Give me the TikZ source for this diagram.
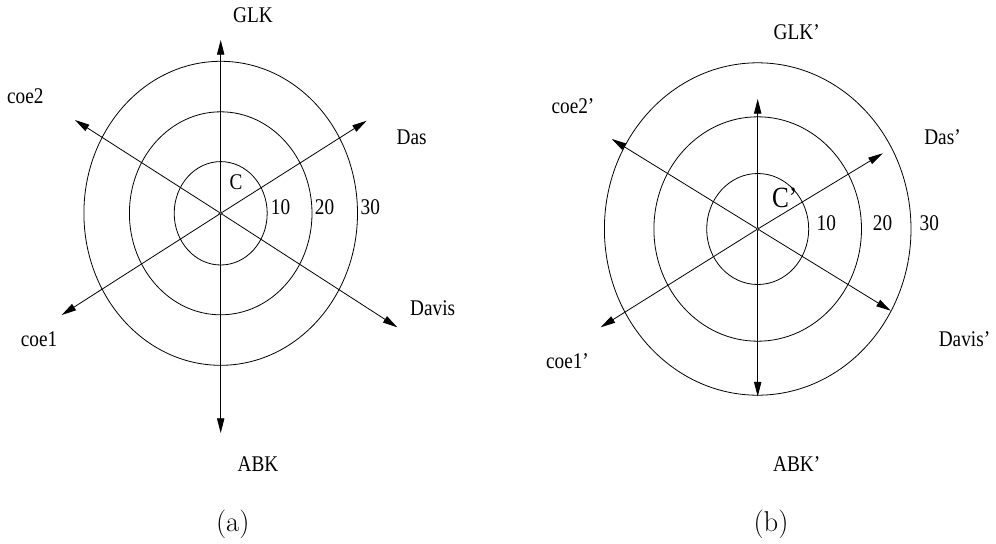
\documentclass[tikz,border=0pt]{standalone}
\usepackage{fontspec}
\newfontfamily\tfont{Liberation Serif}
\usetikzlibrary{arrows.meta}
\newcommand\sqz[1]{\scalebox{0.86}[1]{#1}}
\tikzset{
  lab/.style={font=\tfont\fontsize{16.8}{18}\selectfont, inner sep=0pt},
  biglab/.style={font=\tfont\fontsize{22}{24}\selectfont, inner sep=0pt},
  subcap/.style={font=\fontsize{21.5}{24}\selectfont, inner sep=0pt},
  ax/.style={line width=0.6pt, -{Triangle[length=11pt,width=5.5pt]}},
  ring/.style={line width=0.6pt},
  ctr/.style={circle, draw, line width=0.5pt, fill=gray, inner sep=0pt, minimum size=2.6pt}
}
\begin{document}
\begin{tikzpicture}[x=0.75pt, y=-0.75pt]
\useasboundingbox (0,0) rectangle (996,543);

% ---------- (a) ----------
\coordinate (ca0) at (220.7,213.3);
\draw[ring] (ca0) ellipse [x radius=46.5, y radius=51.7];
\draw[ring] (ca0) ellipse [x radius=91.3, y radius=101.5];
\draw[ring] (ca0) ellipse [x radius=136.8, y radius=152];
\node[ctr] (ca) at (ca0) {};
\coordinate (aN)  at (220.7,40);
\coordinate (aS)  at (220.7,433);
\coordinate (aNE) at (366.7,120.7);
\coordinate (aSW) at (61.7,315);
\coordinate (aNW) at (75,120);
\coordinate (aSE) at (397.3,327.3);
\foreach \t in {aN,aS,aNE,aSW,aNW,aSE} \draw[ax] (ca) -- (\t);

\node[lab] (glk) at (253,15) {\sqz{GLK}};
\node[lab] (abk) at (258,464) {\sqz{ABK}};
\node[lab] (das) at (411.7,137) {\sqz{Das}};
\node[lab] (davis) at (432.7,308.3) {\sqz{Davis}};
\node[lab] (coe2) at (25.3,96) {\sqz{coe2}};
\node[lab] (coe1) at (39,339) {\sqz{coe1}};
\node[lab] (cA) at (236,181.7) {\sqz{C}};
\node[lab] (a10) at (280.5,207.5) {\sqz{10}};
\node[lab] (a20) at (324.5,207.5) {\sqz{20}};
\node[lab] (a30) at (370.3,207.5) {\sqz{30}};
\node[subcap] (capa) at (232.8,524) {(a)};

% ---------- (b) ----------
\coordinate (cb0) at (757.7,229);
\draw[ring] (cb0) ellipse [x radius=51, y radius=55.5];
\draw[ring] (cb0) ellipse [x radius=103.8, y radius=112.2];
\draw[ring] (cb0) ellipse [x radius=153.3, y radius=166.2];
\node[ctr] (cb) at (cb0) {};
\coordinate (bN)  at (757.7,99);
\coordinate (bS)  at (757.7,396.5);
\coordinate (bNE) at (882.7,153.3);
\coordinate (bSW) at (600.7,327.3);
\coordinate (bNW) at (611.7,139);
\coordinate (bSE) at (890.7,310.7);
\foreach \t in {bN,bS,bNE,bSW,bNW,bSE} \draw[ax] (cb) -- (\t);

\node[lab] (glkp) at (796.7,32.5) {\sqz{GLK’}};
\node[lab] (abkp) at (796.7,464) {\sqz{ABK’}};
\node[lab] (dasp) at (942.5,137.5) {\sqz{Das’}};
\node[lab] (davisp) at (964.5,339.5) {\sqz{Davis’}};
\node[lab] (coe2p) at (573,105.8) {\sqz{coe2’}};
\node[lab] (coe1p) at (567.5,360.8) {\sqz{coe1’}};
\node[biglab] (cB) at (784.7,198.3) {\sqz{C’}};
\node[lab] (b10) at (826.3,222.8) {\sqz{10}};
\node[lab] (b20) at (882.5,222.8) {\sqz{20}};
\node[lab] (b30) at (929.3,222.8) {\sqz{30}};
\node[subcap] (capb) at (771,524) {(b)};
\end{tikzpicture}
\end{document}
